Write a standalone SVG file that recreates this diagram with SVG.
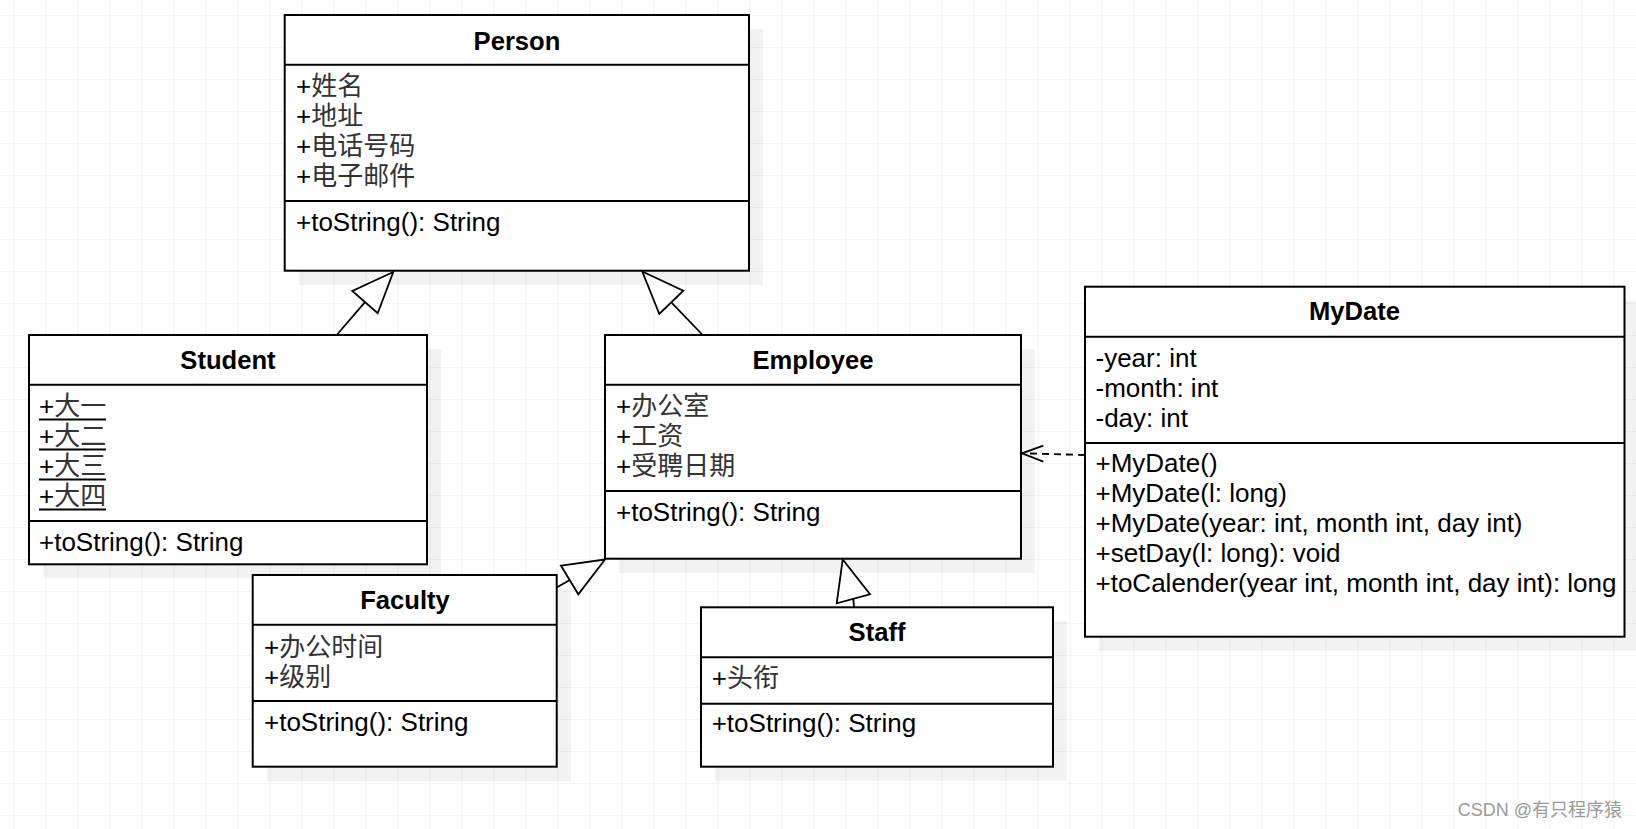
<svg xmlns="http://www.w3.org/2000/svg" width="1636" height="829" viewBox="0 0 1636 829">
<defs>
<pattern id="grid" x="13.3" y="15" width="32" height="32" patternUnits="userSpaceOnUse">
<path d="M0 0 H32 M0 0 V32" fill="none" stroke="#ebebeb" stroke-width="1.2"/>
</pattern>
<style>
.box{fill:#fff;stroke:#000;stroke-width:2}
.sh{fill:#000;fill-opacity:0.05}
.div{stroke:#000;stroke-width:2}
.t{font-family:"Liberation Sans","Noto Sans CJK SC",sans-serif;font-size:26px;fill:#000}
.h{font-weight:bold;text-anchor:middle;font-size:25.6px}
.cn{fill:#333}
.c{fill:none;stroke:#000;stroke-width:1.8}
.tri{fill:#fff;stroke:#000;stroke-width:1.8;stroke-linejoin:miter}
.wm{font-family:"Liberation Sans","Noto Sans CJK SC",sans-serif;font-size:18px;fill:#9a9a9a;text-anchor:end}
</style>
</defs>
<rect width="1636" height="829" fill="#fff"/>
<rect width="1636" height="829" fill="url(#grid)"/>

<g id="Person">
<rect class="sh" x="299" y="29" width="464" height="256"/>
<rect class="box" x="284.7" y="15" width="464.3" height="255.7"/>
<line class="div" x1="284.7" y1="64.7" x2="749" y2="64.7"/>
<line class="div" x1="284.7" y1="201" x2="749" y2="201"/>
<text class="t h" x="517" y="50">Person</text>
<text class="t" x="296" y="94.5">+<tspan class="cn">姓名</tspan></text>
<text class="t" x="296" y="124.5">+<tspan class="cn">地址</tspan></text>
<text class="t" x="296" y="154.5">+<tspan class="cn">电话号码</tspan></text>
<text class="t" x="296" y="184.5">+<tspan class="cn">电子邮件</tspan></text>
<text class="t" x="296" y="231">+toString(): String</text>
</g>

<g id="Student">
<rect class="sh" x="43.3" y="349.3" width="398" height="229"/>
<rect class="box" x="29" y="335" width="398" height="229.3"/>
<line class="div" x1="29" y1="384.7" x2="427" y2="384.7"/>
<line class="div" x1="29" y1="521" x2="427" y2="521"/>
<text class="t h" x="228" y="369.3">Student</text>
<text class="t" x="39" y="414.5">+<tspan class="cn">大一</tspan></text>
<text class="t" x="39" y="444.5">+<tspan class="cn">大二</tspan></text>
<text class="t" x="39" y="474.5">+<tspan class="cn">大三</tspan></text>
<text class="t" x="39" y="504.5">+<tspan class="cn">大四</tspan></text>
<g stroke="#000" stroke-width="2">
<line x1="39" y1="419.5" x2="106" y2="419.5"/>
<line x1="39" y1="449.5" x2="106" y2="449.5"/>
<line x1="39" y1="479.5" x2="106" y2="479.5"/>
<line x1="39" y1="509.5" x2="106" y2="509.5"/>
</g>
<text class="t" x="39" y="551">+toString(): String</text>
</g>

<g id="Employee">
<rect class="sh" x="619" y="349" width="416" height="224"/>
<rect class="box" x="605" y="335" width="416" height="223.7"/>
<line class="div" x1="605" y1="384.7" x2="1021" y2="384.7"/>
<line class="div" x1="605" y1="491" x2="1021" y2="491"/>
<text class="t h" x="813" y="369.3">Employee</text>
<text class="t" x="616" y="414.5">+<tspan class="cn">办公室</tspan></text>
<text class="t" x="616" y="444.5">+<tspan class="cn">工资</tspan></text>
<text class="t" x="616" y="474.5">+<tspan class="cn">受聘日期</tspan></text>
<text class="t" x="616" y="521">+toString(): String</text>
</g>

<g id="MyDate">
<rect class="sh" x="1099" y="301" width="539.5" height="350"/>
<rect class="box" x="1085" y="286.7" width="539.5" height="350"/>
<line class="div" x1="1085" y1="336.7" x2="1624.5" y2="336.7"/>
<line class="div" x1="1085" y1="443" x2="1624.5" y2="443"/>
<text class="t h" x="1354.5" y="320">MyDate</text>
<text class="t" x="1095.5" y="366.5">-year: int</text>
<text class="t" x="1095.5" y="396.5">-month: int</text>
<text class="t" x="1095.5" y="426.5">-day: int</text>
<text class="t" x="1095.5" y="471.5">+MyDate()</text>
<text class="t" x="1095.5" y="501.5">+MyDate(l: long)</text>
<text class="t" x="1095.5" y="531.5">+MyDate(year: int, month int, day int)</text>
<text class="t" x="1095.5" y="561.5">+setDay(l: long): void</text>
<text class="t" x="1095.5" y="591.5">+toCalender(year int, month int, day int): long</text>
</g>

<g id="Faculty">
<rect class="sh" x="267" y="589" width="304" height="192"/>
<rect class="box" x="252.7" y="575" width="304" height="191.7"/>
<line class="div" x1="252.7" y1="624.7" x2="556.7" y2="624.7"/>
<line class="div" x1="252.7" y1="701" x2="556.7" y2="701"/>
<text class="t h" x="405" y="609.3">Faculty</text>
<text class="t" x="264" y="656">+<tspan class="cn">办公时间</tspan></text>
<text class="t" x="264" y="685.5">+<tspan class="cn">级别</tspan></text>
<text class="t" x="264" y="731">+toString(): String</text>
</g>

<g id="Staff">
<rect class="sh" x="715" y="621.3" width="352" height="159.4"/>
<rect class="box" x="701" y="607.3" width="352" height="159.4"/>
<line class="div" x1="701" y1="657.3" x2="1053" y2="657.3"/>
<line class="div" x1="701" y1="703.7" x2="1053" y2="703.7"/>
<text class="t h" x="877" y="641">Staff</text>
<text class="t" x="711.7" y="686.5">+<tspan class="cn">头衔</tspan></text>
<text class="t" x="711.7" y="732">+toString(): String</text>
</g>

<g id="connectors">
<line class="c" x1="336.7" y1="335" x2="365" y2="302.2"/>
<polygon class="tri" points="393.3,272 352.3,291 377.7,313.3"/>
<line class="c" x1="702.7" y1="335" x2="671.3" y2="302.3"/>
<polygon class="tri" points="642.3,271.5 683.3,290.7 659.3,314"/>
<line class="c" x1="556.7" y1="587.5" x2="569.7" y2="580"/>
<polygon class="tri" points="605,559.5 561,565.7 578.3,594.3"/>
<line class="c" x1="854" y1="607.3" x2="853.3" y2="598.8"/>
<polygon class="tri" points="842.7,559.5 836.7,603.3 870,594.3"/>
<line class="c" x1="1085" y1="455" x2="1023" y2="453.3" stroke-dasharray="7,5"/>
<polyline class="c" points="1043.3,445.7 1022,453.3 1043.3,461.7"/>
</g>

<text class="wm" x="1622" y="816">CSDN @有只程序猿</text>
</svg>
